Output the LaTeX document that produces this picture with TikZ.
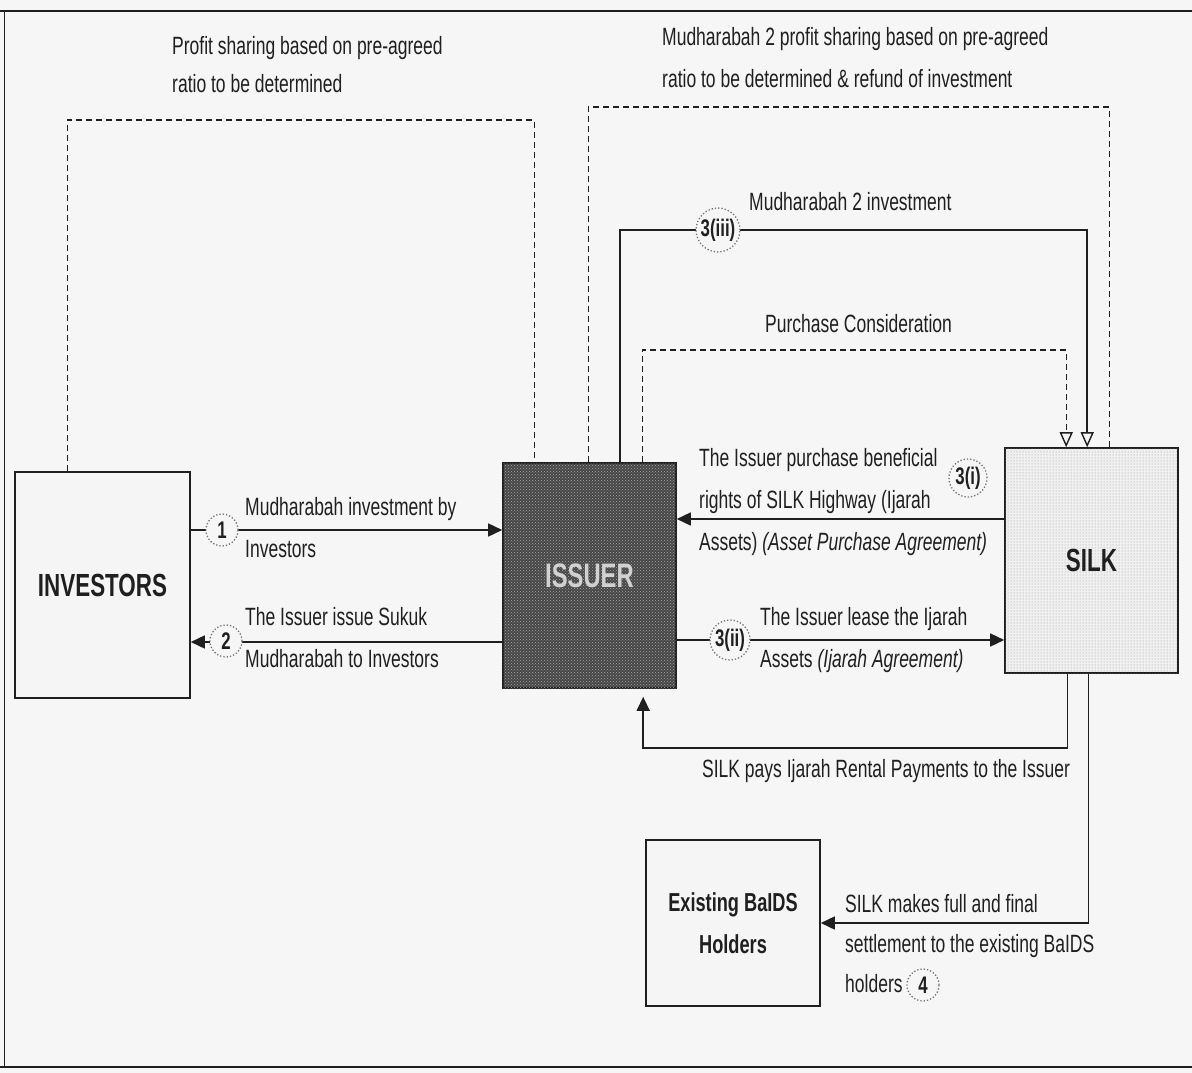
\documentclass[tikz,border=0pt]{standalone}
\usepackage{fontspec}
\setmainfont[FakeStretch=0.7]{Liberation Sans}
\usetikzlibrary{arrows.meta,patterns}
\definecolor{bg}{gray}{0.965}
\definecolor{ink}{gray}{0.12}
\tikzset{
  bx/.style={draw=ink, line width=1.6pt, inner sep=0pt},
  lbl/.style={anchor=north west, align=left, inner sep=0pt, text=ink, font=\fontsize{25}{42}\selectfont},
  ln/.style={line width=1.6pt, draw=ink},
  arr/.style={ln, -{Triangle[length=14pt,width=13pt]}},
  oarr/.style={-{Triangle[open,length=15pt,width=13pt,line width=1.4pt]}},
  dl/.style={line width=1.4pt, dash pattern=on 6pt off 4pt, draw=ink},
  num/.style={circle, draw=black!55, dotted, line width=1.3pt, fill=bg, minimum size=38pt, inner sep=1pt, text=ink, font=\bfseries\fontsize{24}{24}\selectfont},
  snum/.style={num, minimum size=32pt},
}
\begin{document}
\begin{tikzpicture}[x=1pt,y=-1pt]
\useasboundingbox (0,0) rectangle (1192,1073);
\fill[bg] (0,0) rectangle (1192,1073);
% frame
\draw[line width=2.5pt, ink] (0,11) -- (1192,11);
\draw[line width=0.9pt, ink] (4,11) -- (4,1067);
\draw[line width=2pt, ink] (0,1067) -- (1192,1067);

% boxes
\node[bx, fill=white!96!black, minimum width=175pt, minimum height=226pt] (inv) at (102.5,585) {};
\node[text=ink, font=\bfseries\fontsize{32}{32}\selectfont] (invl) at (inv.center) {INVESTORS};
\node[bx, fill=black!72, postaction={pattern=crosshatch dots, pattern color=black!35}, minimum width=173pt, minimum height=225pt] (iss) at (589.5,575.5) {};
\node[text=white!82!black, font=\bfseries\fontsize{34}{34}\selectfont] (issl) at (iss.center) {ISSUER};
\node[bx, fill=black!6, postaction={pattern=dots, pattern color=black!40}, minimum width=173pt, minimum height=225pt] (silk) at (1091.5,560.5) {};
\node[text=ink, font=\bfseries\fontsize{32}{32}\selectfont] (silkl) at (silk.center) {SILK};
\node[bx, fill=white!96!black, minimum width=174pt, minimum height=166pt] (baids) at (733,923) {};
\node[text=ink, align=center, font=\bfseries\fontsize{26}{42}\selectfont] (baidsl) at (baids.center) {Existing BaIDS\\Holders};

% helper coordinates
\coordinate (ytop1) at (300,120);
\coordinate (ytop2) at (850,107);
\coordinate (ym2) at (850,230);
\coordinate (ypc) at (850,350);
\coordinate (y1) at (0,530);
\coordinate (y2) at (0,642);
\coordinate (y3i) at (0,519);
\coordinate (y3ii) at (0,640);
\coordinate (yrent) at (850,748);

% top-left dashed loop
\draw[dl] ([xshift=53pt]inv.north west) |- (ytop1) -| ([xshift=32pt]iss.north west);
% top-right dashed loop
\draw[dl] ([xshift=86pt]iss.north west) |- (ytop2) -| ([xshift=105pt]silk.north west);
% Mudharabah 2 investment
\draw[ln, oarr] ([xshift=118pt]iss.north west) |- (ym2) -| ([xshift=83pt]silk.north west);
% Purchase consideration
\draw[dl, oarr] ([xshift=140pt]iss.north west) |- (ypc) -| ([xshift=62pt]silk.north west);
% 1 and 2
\draw[arr] (inv.east |- y1) -- (iss.west |- y1);
\draw[arr] (iss.west |- y2) -- (inv.east |- y2);
% 3(i) and 3(ii)
\draw[arr] (silk.west |- y3i) -- (iss.east |- y3i);
\draw[arr] (iss.east |- y3ii) -- (silk.west |- y3ii);
% rental payments
\draw[arr, shorten >=8pt] ([xshift=-24pt]silk.south) |- (yrent) -| ([xshift=141pt]iss.south west);
% settlement
\draw[arr] ([xshift=-3pt]silk.south) |- (baids.east);

% number markers
\node[snum] (n1) at (222,530) {1};
\node[snum] (n2) at (226,641) {2};
\node[num] (n3iii) at (718,230) {3(iii)};
\node[num] (n3i) at (968,478) {3(i)};
\node[num] (n3ii) at (730,640) {3(ii)};
\node[snum] (n4) at (923,985) {4};

% labels
\node[lbl, font=\fontsize{25}{38}\selectfont] (t1) at (172,36) {Profit sharing based on pre-agreed\\ratio to be determined};
\node[lbl] (t2) at (662,27) {Mudharabah 2 profit sharing based on pre-agreed\\ratio to be determined \& refund of investment};
\node[lbl] (t3) at (749,192) {Mudharabah 2 investment};
\node[lbl] (t4) at (765,314) {Purchase Consideration};
\node[lbl] (t5) at (699,448) {The Issuer purchase beneficial\\rights of SILK Highway (Ijarah\\Assets) \textit{(Asset Purchase Agreement)}};
\node[lbl] (t6) at (760,607) {The Issuer lease the Ijarah\\Assets \textit{(Ijarah Agreement)}};
\node[lbl] (t7) at (702,759) {SILK pays Ijarah Rental Payments to the Issuer};
\node[lbl] (t8) at (245,497) {Mudharabah investment by\\Investors};
\node[lbl] (t9) at (245,607) {The Issuer issue Sukuk\\Mudharabah to Investors};
\node[lbl, font=\fontsize{25}{40}\selectfont] (t10) at (845,894) {SILK makes full and final\\settlement to the existing BaIDS\\holders};
\end{tikzpicture}
\end{document}
